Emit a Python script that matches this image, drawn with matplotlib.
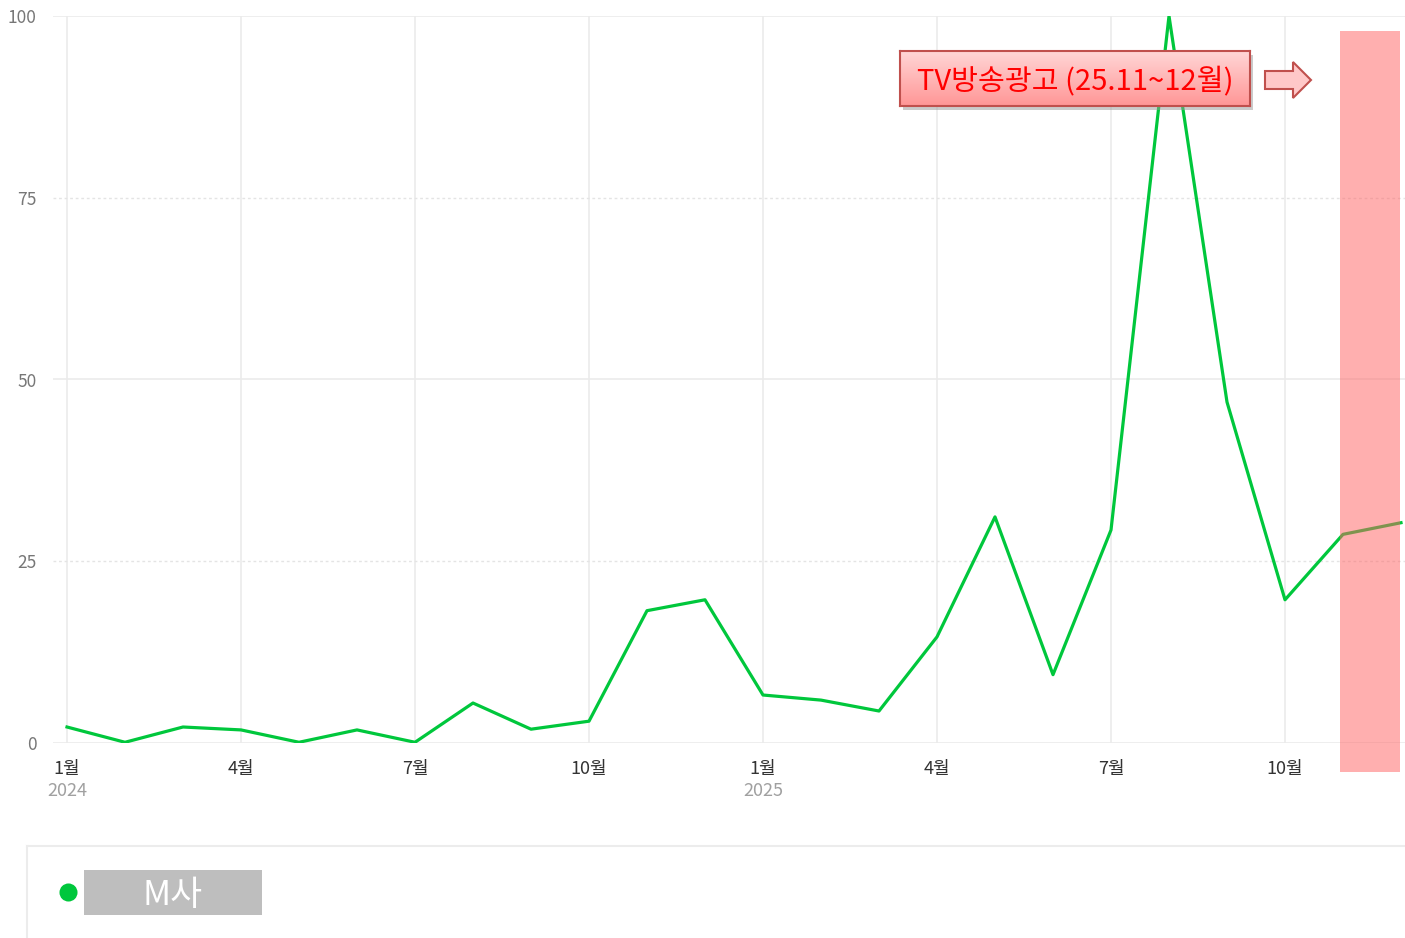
import matplotlib.pyplot as plt
import numpy as np
from matplotlib.patches import Rectangle, Polygon
import matplotlib.transforms as mtransforms

plt.rcParams['font.family'] = ['Noto Sans CJK KR', 'DejaVu Sans']

# monthly index values, Jan 2024 .. Dec 2025
months = list(range(24))
values = [2.2, 0.1, 2.2, 1.8, 0.1, 1.8, 0.1, 5.5, 1.9, 3.0, 18.2, 19.7,
          6.6, 5.9, 4.4, 14.6, 31.1, 9.4, 29.3, 100.0, 46.9, 19.7, 28.7, 30.3]
tick_pos = [0, 3, 6, 9, 12, 15, 18, 21]
tick_labels = ['1월', '4월', '7월', '10월', '1월', '4월', '7월', '10월']
year_pos = [0, 12]
year_labels = ['2024', '2025']
series_name = 'M사'
note_text = 'TV방송광고 (25.11~12월)'

W, H = 1405, 938
fig = plt.figure(figsize=(W / 100, H / 100), dpi=100)

def fx(px):
    return px / W

def fy(py):
    return 1 - py / H

ax = fig.add_axes([fx(53), fy(743), fx(1405) - fx(53), fy(16) - fy(743)])
ax.set_xlim(-14 / 58, 23 + 4 / 58)
ax.set_ylim(0, 100)
for s in ax.spines.values():
    s.set_visible(False)

# grid
for t in tick_pos:
    ax.axvline(t, color='#ebebeb', lw=1.2, zorder=0)
for yv in [0, 50, 100]:
    ax.axhline(yv, color='#ebebeb', lw=1.2, zorder=0)
for yv in [25, 75]:
    ax.axhline(yv, color='#e4e4e4', lw=1.0, ls=(0, (2, 2)), zorder=0)

ax.plot(months, values, color='#00c73c', lw=2.3, zorder=3)

ax.set_yticks([0, 25, 50, 75, 100])
ax.set_yticklabels(['0', '25', '50', '75', '100'])
ax.tick_params(axis='y', length=0, pad=12, labelsize=12.5, labelcolor='#777777')
ax.set_xticks(tick_pos)
ax.set_xticklabels(tick_labels)
ax.tick_params(axis='x', length=0, pad=12, labelsize=13, labelcolor='#333333')

trans = mtransforms.blended_transform_factory(ax.transData, fig.transFigure)
for p, lab in zip(year_pos, year_labels):
    ax.text(p, fy(791), lab, transform=trans, ha='center', va='center',
            fontsize=13, color='#a0a0a0')

# highlight band for the TV ad period
fig.patches.append(Rectangle((fx(1340), fy(772)), fx(1400) - fx(1340), fy(31) - fy(772),
                             transform=fig.transFigure, facecolor='#ff6161', alpha=0.5,
                             edgecolor='none', zorder=5))

# annotation box with shadow and gradient
bx0, bx1, by0, by1 = 900, 1250, 51, 106
fig.patches.append(Rectangle((fx(bx0 + 3), fy(by1 + 4)), fx(bx1) - fx(bx0), fy(by0) - fy(by1),
                             transform=fig.transFigure, facecolor='#999999', alpha=0.5,
                             edgecolor='none', zorder=6))
bax = fig.add_axes([fx(bx0), fy(by1), fx(bx1) - fx(bx0), fy(by0) - fy(by1)], zorder=7)
grad = np.linspace(0, 1, 100).reshape(-1, 1)
c_top = np.array([255, 214, 214]) / 255
c_bot = np.array([255, 150, 150]) / 255
img = c_top + (c_bot - c_top) * grad[:, :, None]
bax.imshow(img, aspect='auto', extent=[0, 1, 0, 1], origin='upper')
bax.set_xticks([])
bax.set_yticks([])
for s in bax.spines.values():
    s.set_color('#c0504d')
    s.set_linewidth(1.5)
bax.text(0.5, 0.44, note_text, ha='center', va='center', fontsize=21, color='#ff0000',
         transform=bax.transAxes)

# outline arrow
arrow_px = [(1265, 71), (1293, 71), (1293, 62), (1311, 80), (1293, 98), (1293, 89), (1265, 89)]
fig.patches.append(Polygon([(fx(x), fy(y)) for x, y in arrow_px], closed=True,
                           transform=fig.transFigure, facecolor='#ffc8c8',
                           edgecolor='#c0504d', lw=1.5, zorder=6))

# legend area
fig.lines.append(plt.Line2D([fx(27), fx(1405)], [fy(846), fy(846)], transform=fig.transFigure,
                            color='#ececec', lw=1.5))
fig.lines.append(plt.Line2D([fx(27), fx(27)], [fy(846), fy(938)], transform=fig.transFigure,
                            color='#ececec', lw=1.5))
fig.lines.append(plt.Line2D([fx(68)], [fy(892)], transform=fig.transFigure, marker='o',
                            markersize=13, color='#00c73c', markeredgewidth=0, ls='none'))
fig.patches.append(Rectangle((fx(84), fy(915)), fx(262) - fx(84), fy(870) - fy(915),
                             transform=fig.transFigure, facecolor='#bebebe', edgecolor='none'))
fig.text(fx(173), fy(895), series_name, ha='center', va='center', fontsize=25, color='white')

fig.savefig('out.png', dpi=100)
